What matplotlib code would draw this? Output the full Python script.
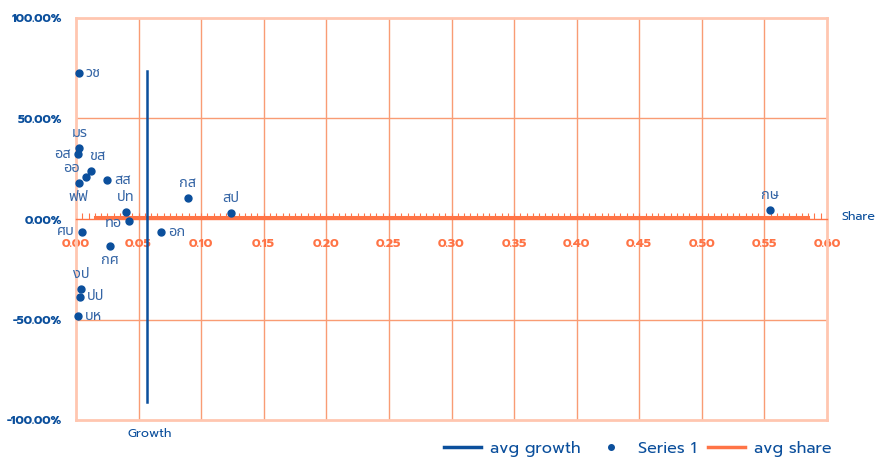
import matplotlib
matplotlib.use("Agg")
import matplotlib.pyplot as plt
from matplotlib.lines import Line2D
from matplotlib.ticker import FuncFormatter, MultipleLocator

# data
labels = ["วช", "มร", "อส", "ขส", "ออ", "ฟฟ", "สส", "ปท", "ทอ", "ศบ",
          "อก", "กส", "สป", "กศ", "งป", "ปป", "บห", "กษ"]
share = [0.0024, 0.0026, 0.0013, 0.0120, 0.0077, 0.0021, 0.0248, 0.0400, 0.0420, 0.0048,
         0.0677, 0.0892, 0.1240, 0.0269, 0.0040, 0.0034, 0.0016, 0.5547]
growth = [72.6, 35.2, 32.3, 23.7, 20.7, 17.8, 19.4, 3.5, -1.0, -6.3,
          -6.6, 10.6, 3.1, -13.4, -35.0, -38.6, -48.4, 4.5]

avg_growth_x = [0.0565, 0.0565]
avg_growth_y = [73.6, -91.0]
avg_share_x = [0.015, 0.585]
avg_share_y = [1.2, 1.2]

# where each label sits relative to its point
place = ["right", "above", "left", "aboveright", "leftabove", "below", "right", "above", "leftbelow", "left",
         "right", "above", "above", "below", "above", "right", "right", "above"]

BLUE = "#0b4f9c"
LBLUE = "#3565a5"
ORANGE = "#ff7446"
GRID = "#f99c74"
FRAME = "#ffc6b0"

thai = ["Noto Sans Thai", "DejaVu Sans"]
latin = ["Prompt", "DejaVu Sans"]

fig = plt.figure(figsize=(8.81, 4.59), dpi=100)
ax = fig.add_axes([76 / 881, 1 - 420 / 459, 751 / 881, 402 / 459])

ax.set_xlim(0, 0.6)
ax.set_ylim(-100, 100)

# grid + frame
for gx in [0.05 * i for i in range(1, 12)]:
    ax.axvline(gx, color=GRID, lw=1.0, zorder=1)
for gy in [-50, 50]:
    ax.axhline(gy, color=GRID, lw=1.0, zorder=1)
for s in ["left", "right", "top"]:
    ax.spines[s].set_color(FRAME)
    ax.spines[s].set_linewidth(2.0)
ax.axhline(-100, color=FRAME, lw=2.0, zorder=1, clip_on=False)

# x axis crossing at zero
ax.spines["bottom"].set_position(("data", 0))
ax.spines["bottom"].set_color(ORANGE)
ax.spines["bottom"].set_linewidth(1.0)
ax.xaxis.set_major_locator(MultipleLocator(0.05))
ax.xaxis.set_minor_locator(MultipleLocator(0.005))
ax.xaxis.set_major_formatter(FuncFormatter(lambda v, p: "%.2f" % v))
ax.tick_params(axis="x", which="both", direction="in", color=ORANGE, width=0.8)
ax.tick_params(axis="x", which="major", length=4, pad=14, labelcolor=ORANGE, labelsize=9)
ax.tick_params(axis="x", which="minor", length=4)

ax.yaxis.set_major_locator(MultipleLocator(50))
ax.yaxis.set_major_formatter(FuncFormatter(lambda v, p: "%.2f%%" % v))
ax.tick_params(axis="y", length=0, pad=10, labelcolor=BLUE, labelsize=8.7)
for t in ax.get_xticklabels() + ax.get_yticklabels():
    t.set_fontfamily(latin)
    t.set_fontweight("bold")

# avg lines
ax.plot(avg_share_x, avg_share_y, color=ORANGE, lw=2.2, zorder=3)
ax.plot(avg_growth_x, avg_growth_y, color=BLUE, lw=1.8, zorder=3)

# points
ax.plot(share, growth, "o", color=BLUE, ms=5, zorder=4, clip_on=False)

offs = {
    "right": ((5, 0), "left", "center"),
    "left": ((-5, 0), "right", "center"),
    "above": ((0, 5), "center", "bottom"),
    "below": ((0, -5), "center", "top"),
    "aboveright": ((-1, 5), "left", "bottom"),
    "leftabove": ((-4, 1), "right", "bottom"),
    "leftbelow": ((-5, -2), "right", "center"),
}
for lab, x, y, pl in zip(labels, share, growth, place):
    off, ha, va = offs[pl]
    ax.annotate(lab, (x, y), xytext=off, textcoords="offset points", ha=ha, va=va,
                fontsize=10.5, color=LBLUE, family=thai, zorder=5)

fig.text(841 / 881, 1 - 217 / 459, "Share", ha="left", va="center", color=BLUE,
         fontsize=9, family=latin)
fig.text(150 / 881, 1 - 434 / 459, "Growth", ha="center", va="center", color=BLUE,
         fontsize=9, family=latin)

handles = [
    Line2D([], [], color=BLUE, lw=2.5),
    Line2D([], [], color=BLUE, marker="o", ls="none", ms=4),
    Line2D([], [], color=ORANGE, lw=2.5),
]
leg = fig.legend(handles, ["avg growth", "Series 1", "avg share"], loc="center",
                 bbox_to_anchor=(638 / 881, 1 - 449 / 459), ncol=3, frameon=False,
                 prop={"family": latin, "size": 11.5}, handlelength=2.3, columnspacing=0.7,
                 handletextpad=0.6)
for t in leg.get_texts():
    t.set_color(BLUE)

fig.savefig("out.png", dpi=100)
